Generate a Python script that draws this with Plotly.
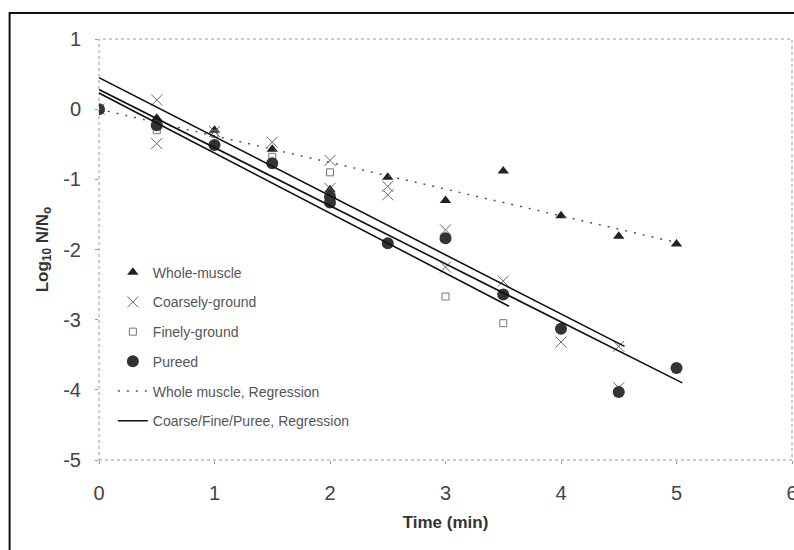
import plotly.graph_objects as go

# ---------------- data ----------------
whole_t = [0, 0.5, 1, 1.5, 2, 2.5, 3, 3.5, 4, 4.5, 5]
whole_v = [0, -0.13, -0.30, -0.57, -1.15, -0.97, -1.30, -0.88, -1.52, -1.81, -1.92]

coarse_t = [0, 0.5, 0.5, 1, 1.5, 2, 2, 2.5, 2.5, 3, 3, 3.5, 4, 4.5, 4.5]
coarse_v = [0, 0.13, -0.49, -0.32, -0.47, -0.73, -1.13, -1.10, -1.22, -1.72, -2.25, -2.45, -3.32, -3.38, -3.97]

fine_t = [0, 0.5, 1, 1.5, 2, 3, 3.5]
fine_v = [0, -0.30, -0.35, -0.68, -0.90, -2.67, -3.05]

puree_t = [0, 0.5, 1, 1.5, 2, 2, 2.5, 3, 3.5, 4, 4.5, 5]
puree_v = [0, -0.23, -0.51, -0.77, -1.25, -1.33, -1.91, -1.84, -2.64, -3.13, -4.03, -3.69]

# regression lines: intercept, slope, end time
whole_reg = dict(intercept=0.0, slope=-0.38, t_end=5.0)
ground_regs = [
    dict(intercept=0.45, slope=-0.842, t_end=4.55),   # coarse
    dict(intercept=0.28, slope=-0.828, t_end=5.05),   # puree
    dict(intercept=0.23, slope=-0.856, t_end=3.55),   # fine
]

x_ticks = [0, 1, 2, 3, 4, 5, 6]
y_ticks = [1, 0, -1, -2, -3, -4, -5]

FONT = "Liberation Sans, Arial, sans-serif"
GREY_TXT = "#444"

fig = go.Figure()

fig.add_trace(go.Scatter(
    x=whole_t, y=whole_v, mode="markers", name="Whole-muscle",
    legendgroup="a",
    marker=dict(symbol="triangle-up", size=10, color="#222")))
fig.add_trace(go.Scatter(
    x=coarse_t, y=coarse_v, mode="markers", name="Coarsely-ground",
    legendgroup="b",
    marker=dict(symbol="x-thin", size=11, color="#666",
                line=dict(width=1, color="#666"))))
fig.add_trace(go.Scatter(
    x=fine_t, y=fine_v, mode="markers", name="Finely-ground",
    legendgroup="c",
    marker=dict(symbol="square-open", size=7, color="#777",
                line=dict(width=1, color="#777"))))
fig.add_trace(go.Scatter(
    x=puree_t, y=puree_v, mode="markers", name="Pureed",
    legendgroup="d",
    marker=dict(symbol="circle", size=12, color="#333")))

fig.add_trace(go.Scatter(
    x=[0, whole_reg["t_end"]],
    y=[whole_reg["intercept"], whole_reg["intercept"] + whole_reg["slope"] * whole_reg["t_end"]],
    mode="lines", name="Whole muscle, Regression", legendgroup="e",
    line=dict(color="#555", width=1.5, dash="2px,7px")))

for i, r in enumerate(ground_regs):
    fig.add_trace(go.Scatter(
        x=[0, r["t_end"]],
        y=[r["intercept"], r["intercept"] + r["slope"] * r["t_end"]],
        mode="lines", name="Coarse/Fine/Puree, Regression", legendgroup="f",
        showlegend=(i == 0),
        line=dict(color="#111", width=1.6)))

# outer frame
fig.add_shape(type="rect", xref="paper", yref="paper",
              x0=-0.129, x1=1.3, y0=-0.5, y1=1.062,
              line=dict(color="#111", width=2), layer="below")
# plot area border (dotted)
fig.add_shape(type="rect", xref="paper", yref="paper",
              x0=0, x1=1, y0=0, y1=1,
              line=dict(color="#999", width=1, dash="dot"), layer="below")

fig.update_layout(
    width=794, height=550,
    margin=dict(l=99, r=2, t=39, b=90, autoexpand=False),
    paper_bgcolor="white", plot_bgcolor="white",
    font=dict(family=FONT, color=GREY_TXT),
    showlegend=True,
    legend=dict(
        x=0.02, y=0.483, xanchor="left", yanchor="top",
        bgcolor="rgba(0,0,0,0)",
        font=dict(family=FONT, size=14, color="#555"),
        traceorder="grouped", tracegroupgap=8.5,
    ),
    xaxis=dict(
        range=[0, 6], tickvals=x_ticks, ticktext=[str(v) for v in x_ticks],
        showgrid=False, zeroline=False, showline=False, automargin=False,
        ticks="outside", ticklen=3, tickcolor="#999",
        tickfont=dict(family=FONT, size=20, color=GREY_TXT),
        ticklabelstandoff=12, ticklabeloverflow="allow",
        title=dict(text="<b>Time (min)</b>", font=dict(family=FONT, size=17, color="#333"),
                   standoff=13),
    ),
    yaxis=dict(
        range=[-5, 1], tickvals=y_ticks, ticktext=[str(v) for v in y_ticks],
        showgrid=False, zeroline=False, showline=False, automargin=False,
        ticks="outside", ticklen=3, tickcolor="#999",
        tickfont=dict(family=FONT, size=20, color=GREY_TXT),
        ticklabelstandoff=10, ticklabeloverflow="allow",
        title=dict(text="<b>Log<sub>10</sub> N/N<sub>o</sub></b>",
                   font=dict(family=FONT, size=17, color="#333"), standoff=10),
    ),
)

fig.write_html(
    "out.html",
    config={"displayModeBar": False},
    post_script="document.body.style.margin='0';document.body.style.overflow='hidden';",
)
